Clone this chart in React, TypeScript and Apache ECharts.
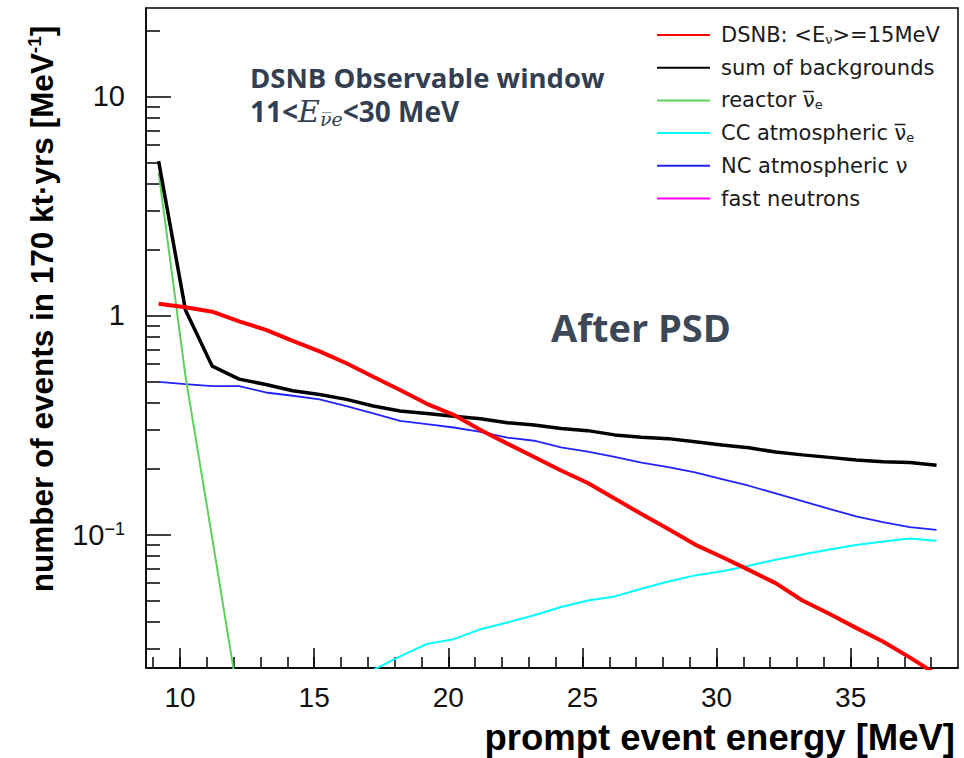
import React, { useEffect, useRef } from 'react';
import * as echarts from 'echarts';

// ---- data ----
const energies = [9.2, 10.2, 11.2, 12.2, 13.2, 14.2, 15.2, 16.2, 17.2, 18.2, 19.2, 20.2, 21.2, 22.2, 23.2, 24.2, 25.2, 26.2, 27.2, 28.2, 29.2, 30.2, 31.2, 32.2, 33.2, 34.2, 35.2, 36.2, 37.2, 38.2];
const dsnb = [1.13, 1.09, 1.04, 0.94, 0.86, 0.765, 0.685, 0.605, 0.525, 0.457, 0.395, 0.352, 0.3, 0.26, 0.226, 0.196, 0.172, 0.146, 0.124, 0.106, 0.09, 0.079, 0.069, 0.06, 0.05, 0.0435, 0.0375, 0.0325, 0.0275, 0.023];
const sumBackgrounds = [5.06, 1.06, 0.587, 0.512, 0.484, 0.453, 0.436, 0.414, 0.386, 0.366, 0.357, 0.347, 0.338, 0.324, 0.316, 0.305, 0.298, 0.285, 0.278, 0.274, 0.265, 0.256, 0.249, 0.238, 0.231, 0.225, 0.219, 0.215, 0.213, 0.207];
const reactorEnergies = [9.2, 10.2, 11.2, 12.2];
const reactor = [4.5, 0.53, 0.096, 0.017];
const ccEnergies = [17.2, 18.2, 19.2, 20.2, 21.2, 22.2, 23.2, 24.2, 25.2, 26.2, 27.2, 28.2, 29.2, 30.2, 31.2, 32.2, 33.2, 34.2, 35.2, 36.2, 37.2, 38.2];
const ccAtm = [0.0241, 0.0278, 0.0317, 0.0333, 0.037, 0.0397, 0.0428, 0.0467, 0.05, 0.0522, 0.0566, 0.061, 0.0651, 0.068, 0.072, 0.0768, 0.081, 0.0855, 0.0897, 0.093, 0.096, 0.0937];
const ncAtm = [0.498, 0.486, 0.476, 0.476, 0.445, 0.43, 0.414, 0.386, 0.357, 0.33, 0.319, 0.308, 0.294, 0.277, 0.268, 0.25, 0.239, 0.226, 0.213, 0.203, 0.192, 0.179, 0.167, 0.154, 0.142, 0.131, 0.121, 0.114, 0.108, 0.105];
const fastNeutrons: number[][] = [];

const xMinorTicks = [9, 10, 11, 12, 13, 14, 15, 16, 17, 18, 19, 20, 21, 22, 23, 24, 25, 26, 27, 28, 29, 30, 31, 32, 33, 34, 35, 36, 37, 38];
const xMajorTicks = [10, 15, 20, 25, 30, 35];
const yMajorTicks = [0.1, 1, 10];
const yMinorTicks = [0.03, 0.04, 0.05, 0.06, 0.07, 0.08, 0.09, 0.2, 0.3, 0.4, 0.5, 0.6, 0.7, 0.8, 0.9, 2, 3, 4, 5, 6, 7, 8, 9, 20];

const names = [
  'DSNB: <Eν>=15MeV',
  'sum of backgrounds',
  'reactor ν̅e',
  'CC atmospheric ν̅e',
  'NC atmospheric ν',
  'fast neutrons',
];
const legendLabels: Record<string, string> = {
  'DSNB: <Eν>=15MeV': '{n|DSNB: <E}{s|ν}{n|>=15MeV}',
  'sum of backgrounds': '{n|sum of backgrounds}',
  'reactor ν̅e': '{n|reactor ν\u0305}{s|e}',
  'CC atmospheric ν̅e': '{n|CC atmospheric ν\u0305}{s|e}',
  'NC atmospheric ν': '{n|NC atmospheric ν}',
  'fast neutrons': '{n|fast neutrons}',
};

const pairs = (xs: number[], ys: number[]) => xs.map((x, i) => [x, ys[i]]);

const X_MIN = 8.73;
const X_MAX = 39;
const Y_MIN = 0.0246;
const Y_MAX = 25.3;

const AXIS_FONT = '"Liberation Sans", Arial, Helvetica, sans-serif';
const LEGEND_FONT = '"DejaVu Sans", "Liberation Sans", sans-serif';
const NOTE_FONT = '"Open Sans", "Lato", sans-serif';
const MATH_FONT = '"DejaVu Serif", "Liberation Serif", serif';

export default function App() {
  const ref = useRef<HTMLDivElement>(null);

  useEffect(() => {
    if (!ref.current) return;
    const chart = echarts.init(ref.current, null, { renderer: 'svg' });

    const tickLine = { color: '#000', width: 1.5 };

    const line = (name: string, data: number[][], color: string, width: number, z: number) => ({
      type: 'line',
      name,
      data,
      xAxisIndex: 0,
      yAxisIndex: 0,
      showSymbol: false,
      symbol: 'none',
      silent: true,
      clip: true,
      z,
      lineStyle: { color, width },
      itemStyle: { color: 'rgba(0,0,0,0)' },
      emphasis: { disabled: true },
    });

    chart.setOption({
      animation: false,
      backgroundColor: '#ffffff',
      grid: {
        left: 146,
        top: 8,
        width: 812,
        height: 660,
        show: true,
        borderColor: '#000',
        borderWidth: 1.5,
        backgroundColor: 'transparent',
        containLabel: false,
        outerBoundsMode: 'none',
      },
      legend: {
        orient: 'vertical',
        left: 651,
        top: 19,
        itemWidth: 53,
        itemHeight: 14,
        itemGap: 10.7,
        selectedMode: false,
        data: names,
        formatter: (n: string) => legendLabels[n] || n,
        textStyle: {
          color: '#1a1a1a',
          fontFamily: LEGEND_FONT,
          fontSize: 21,
          lineHeight: 22,
          padding: [0, 0, 0, 6],
          rich: {
            n: { fontFamily: LEGEND_FONT, fontSize: 21, lineHeight: 22, color: '#1a1a1a' },
            s: { fontFamily: LEGEND_FONT, fontSize: 13, lineHeight: 12, verticalAlign: 'bottom', color: '#1a1a1a' },
          },
        },
      },
      xAxis: [
        {
          type: 'value',
          min: X_MIN,
          max: X_MAX,
          position: 'bottom',
          axisLine: { show: true, onZero: false, lineStyle: { color: '#000', width: 1.5 } },
          axisTick: { show: true, inside: true, length: 11, customValues: xMinorTicks, lineStyle: tickLine },
          axisLabel: {
            show: true,
            customValues: xMajorTicks,
            margin: 15,
            color: '#111',
            fontSize: 28,
            fontFamily: AXIS_FONT,
          },
          splitLine: { show: false },
          name: 'prompt event energy [MeV]',
          nameLocation: 'end',
          nameGap: -3,
          nameTextStyle: {
            align: 'right',
            verticalAlign: 'top',
            padding: [51, 0, 0, 0],
            color: '#000',
            fontSize: 36.5,
            fontWeight: 'bold',
            fontFamily: AXIS_FONT,
          },
        },
        {
          type: 'value',
          min: X_MIN,
          max: X_MAX,
          position: 'bottom',
          axisLine: { show: false },
          axisTick: { show: true, inside: true, length: 20, customValues: xMajorTicks, lineStyle: tickLine },
          axisLabel: { show: false },
          splitLine: { show: false },
        },
      ],
      yAxis: [
        {
          type: 'log',
          logBase: 10,
          min: Y_MIN,
          max: Y_MAX,
          position: 'left',
          axisLine: { show: true, onZero: false, lineStyle: { color: '#000', width: 1.5 } },
          axisTick: { show: true, inside: true, length: 14, customValues: yMinorTicks, lineStyle: tickLine },
          axisLabel: {
            show: true,
            customValues: yMajorTicks,
            margin: 21,
            color: '#111',
            fontFamily: AXIS_FONT,
            formatter: (v: number) => {
              const p = Math.round(Math.log10(v));
              if (p === 0) return '{b|1}';
              if (p === 1) return '{b|10}';
              return '{b|10}{sup|−1}';
            },
            rich: {
              b: { fontSize: 29, lineHeight: 30, fontFamily: AXIS_FONT, color: '#111' },
              sup: { fontSize: 18, lineHeight: 16, verticalAlign: 'top', fontFamily: AXIS_FONT, color: '#111' },
            },
          },
          splitLine: { show: false },
          name: '{t|number of events in 170 kt·yrs [MeV}{sup|-1}{t|]}',
          nameLocation: 'middle',
          nameRotate: 90,
          nameGap: 87,
          nameTextStyle: {
            padding: [0, 0, 0, 58],
            rich: {
              t: {
                fontSize: 31.5,
                lineHeight: 34,
                fontWeight: 'bold',
                fontFamily: AXIS_FONT,
                color: '#000',
              },
              sup: {
                fontSize: 19,
                lineHeight: 18,
                verticalAlign: 'top',
                fontWeight: 'bold',
                fontFamily: AXIS_FONT,
                color: '#000',
              },
            },
          },
        },
        {
          type: 'log',
          logBase: 10,
          min: Y_MIN,
          max: Y_MAX,
          position: 'left',
          axisLine: { show: false },
          axisTick: { show: true, inside: true, length: 25, customValues: yMajorTicks, lineStyle: tickLine },
          axisLabel: { show: false },
          splitLine: { show: false },
        },
      ],
      graphic: [
        {
          type: 'text',
          left: 250,
          top: 63,
          silent: true,
          style: {
            text: 'DSNB Observable window',
            fontFamily: NOTE_FONT,
            fontWeight: 'bold',
            fontSize: 27.5,
            fill: '#333f50',
          },
        },
        {
          type: 'text',
          left: 250,
          top: 96,
          silent: true,
          style: {
            text: '{n|11<}{e|E}{s|ν\u0305e}{n|<30 MeV}',
            rich: {
              n: { fontFamily: NOTE_FONT, fontWeight: 'bold', fontSize: 28, lineHeight: 34, fill: '#333f50' },
              e: { fontFamily: MATH_FONT, fontStyle: 'italic', fontSize: 30, lineHeight: 34, fill: '#333f50' },
              s: { fontFamily: MATH_FONT, fontStyle: 'italic', fontSize: 19, lineHeight: 22, verticalAlign: 'bottom', fill: '#333f50' },
            },
          },
        },
        {
          type: 'text',
          left: 551,
          top: 308,
          silent: true,
          style: {
            text: 'After PSD',
            fontFamily: NOTE_FONT,
            fontWeight: 'bold',
            fontSize: 38,
            fill: '#3c4858',
          },
        },
      ],
      series: [
        line(names[3], pairs(ccEnergies, ccAtm), '#00ffff', 2, 2),
        line(names[4], pairs(energies, ncAtm), '#2222ff', 1.8, 3),
        line(names[2], pairs(reactorEnergies, reactor), '#5fcf5f', 2, 4),
        line(names[5], fastNeutrons, '#ff00ff', 1.8, 1),
        line(names[1], pairs(energies, sumBackgrounds), '#000000', 3.5, 5),
        line(names[0], pairs(energies, dsnb), '#ff0000', 4, 6),
      ],
    });

    return () => chart.dispose();
  }, []);

  return (
    <div
      ref={ref}
      style={{ position: 'absolute', left: 0, top: 0, width: 964, height: 758, background: '#fff' }}
    />
  );
}
